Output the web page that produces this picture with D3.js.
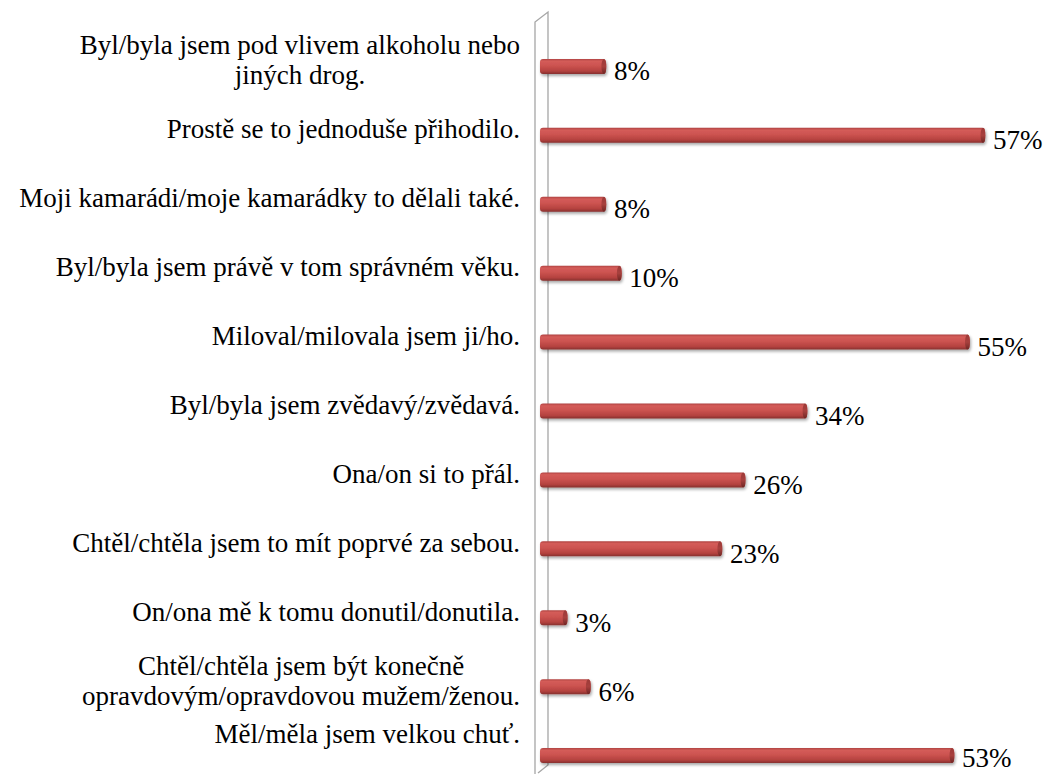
<!DOCTYPE html>
<html><head><meta charset="utf-8">
<script src="https://cdn.jsdelivr.net/npm/d3@7"></script>
<style>html,body{margin:0;padding:0;background:#fff;}svg{display:block;}</style>
</head><body>
<svg id="c" width="1044" height="774"></svg>
<script>
const categories = [
  ["Byl/byla jsem pod vlivem alkoholu nebo", "jiných drog."],
  ["Prostě se to jednoduše přihodilo."],
  ["Moji kamarádi/moje kamarádky to dělali také."],
  ["Byl/byla jsem právě v tom správném věku."],
  ["Miloval/milovala jsem ji/ho."],
  ["Byl/byla jsem zvědavý/zvědavá."],
  ["Ona/on si to přál."],
  ["Chtěl/chtěla jsem to mít poprvé za sebou."],
  ["On/ona mě k tomu donutil/donutila."],
  ["Chtěl/chtěla jsem být konečně", "opravdovým/opravdovou mužem/ženou."],
  ["Měl/měla jsem velkou chuť."]
];
const values = [8, 57, 8, 10, 55, 34, 26, 23, 3, 6, 53];
const valueLabels = ["8%", "57%", "8%", "10%", "55%", "34%", "26%", "23%", "3%", "6%", "53%"];

const svg = d3.select("#c");
const font = "Liberation Serif";
const fs = 27;

const x = d3.scaleLinear().domain([0, 57]).range([544, 985]);
const y = d3.scaleBand().domain(d3.range(categories.length)).range([32, 790]);
const barH = 15;

const defs = svg.append("defs");
const g = defs.append("linearGradient").attr("id","bg").attr("x1",0).attr("y1",0).attr("x2",0).attr("y2",1);
[[0,"#b04442"],[0.15,"#d45c59"],[0.45,"#cc5350"],[0.8,"#b4423f"],[1,"#86302e"]].forEach(s=>g.append("stop").attr("offset",s[0]).attr("stop-color",s[1]));
const cg = defs.append("linearGradient").attr("id","cg").attr("x1",0).attr("y1",0).attr("x2",0).attr("y2",1);
[[0,"#9c3a38"],[0.5,"#a8403d"],[1,"#6e2624"]].forEach(s=>cg.append("stop").attr("offset",s[0]).attr("stop-color",s[1]));
const f = defs.append("filter").attr("id","sh").attr("x","-5%").attr("y","-50%").attr("width","110%").attr("height","200%");
f.append("feGaussianBlur").attr("in","SourceAlpha").attr("stdDeviation",1.5);
f.append("feOffset").attr("dx",1).attr("dy",2).attr("result","o");
f.append("feComponentTransfer").append("feFuncA").attr("type","linear").attr("slope",0.35);
const m = f.append("feMerge"); m.append("feMergeNode"); m.append("feMergeNode").attr("in","SourceGraphic");

// wall
const wall = svg.append("g").attr("fill","none").attr("stroke","#a6a6a6").attr("stroke-width",1.3);
wall.append("path").attr("d","M535,774 L535,22 L548,12 L548,765 L538,773");

const cy = i => y(i) + y.bandwidth()/2;

// bars
const bars = svg.append("g").attr("filter","url(#sh)");
bars.selectAll("rect").data(values).join("rect")
  .attr("x", 540).attr("y", (d,i)=>cy(i)-barH/2)
  .attr("width", d => x(d) - 540).attr("height", barH)
  .attr("rx", 3).attr("fill","url(#bg)");
bars.selectAll("ellipse").data(values).join("ellipse")
  .attr("cx", d => x(d) - 2).attr("cy", (d,i)=>cy(i))
  .attr("rx", 2.5).attr("ry", barH/2).attr("fill","url(#cg)");

// value labels
svg.append("g").selectAll("text").data(valueLabels).join("text")
  .attr("x", (d,i)=>x(values[i]) + 8).attr("y", (d,i)=>Math.min(cy(i) + 14, 767))
  .attr("font-family", font).attr("font-size", fs).attr("fill","#000")
  .text(d=>d);

// category labels (kept inside chart area, like the original)
const lab = svg.append("g");
const lh = 30;
const maxBase = 743;
categories.forEach((lines,i) => {
  const t = lab.append("text").attr("font-family", font).attr("font-size", fs).attr("fill","#000");
  const n = lines.length;
  const base0 = Math.min(cy(i) + 3 + (n-1)*lh/2, maxBase) - (n-1)*lh;
  const spans = lines.map((l,k)=> t.append("tspan").attr("y", base0 + k*lh).text(l));
  const w = d3.max(spans, s=>s.node().getComputedTextLength());
  const right = 520;
  spans.forEach(s => s.attr("x", right - w/2).attr("text-anchor","middle"));
});
</script>
</body></html>
